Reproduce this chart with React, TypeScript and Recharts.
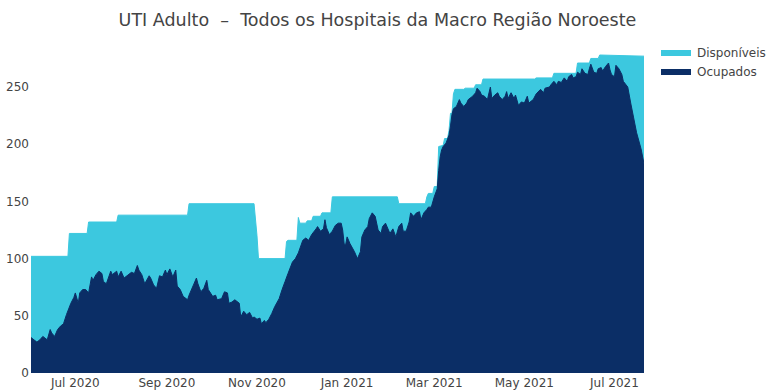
import React from "react";
import { AreaChart, Area, XAxis, YAxis } from "recharts";

// dia 0 = 1 jun 2020
const INICIO = Date.UTC(2020, 5, 1);
const DIA = 86400000;

// [dia, leitos totais]  (topo da área Disponíveis)
const leitosTotais: [number, number][] = [
  [0, 102], [25, 102], [26, 122], [38, 122], [39, 132], [58, 132], [59, 138],
  [106, 138], [107, 148], [151, 148], [153, 120], [154, 100], [172, 100],
  [173, 115], [174, 116], [180, 116], [181, 136], [182, 131], [186, 131],
  [187, 133], [190, 133], [191, 137], [196, 137], [197, 140], [203, 140],
  [204, 154], [248, 154], [249, 148], [267, 148], [268, 154], [269, 157],
  [272, 157], [273, 163], [275, 163], [276, 198], [279, 199], [280, 205],
  [282, 205], [283, 212], [284, 227], [285, 227], [286, 244], [287, 248],
  [293, 248], [294, 249], [300, 249], [301, 252], [305, 252], [306, 257],
  [341, 257], [342, 258], [353, 258], [354, 262], [369, 262], [370, 271],
  [378, 271], [379, 275], [384, 275], [385, 278], [415, 277],
];

// [dia, leitos ocupados]
const ocupados: [number, number][] = [
  [0, 31], [2, 29], [4, 27], [6, 29], [8, 32], [11, 29], [13, 38], [14, 35],
  [16, 32], [18, 38], [20, 41], [22, 43], [24, 51], [27, 61], [29, 66], [30, 70],
  [32, 61], [33, 70], [35, 73], [37, 73], [39, 70], [41, 84], [42, 81], [44, 86],
  [46, 89], [48, 87], [49, 80], [51, 78], [54, 89], [55, 86], [58, 89], [59, 84],
  [61, 89], [63, 83], [65, 85], [68, 88], [70, 87], [72, 94], [73, 90], [75, 86],
  [77, 78], [80, 85], [81, 83], [83, 77], [85, 74], [87, 85], [89, 84], [91, 90],
  [92, 86], [94, 91], [96, 84], [98, 90], [99, 76], [101, 73], [103, 67], [106, 64],
  [107, 68], [110, 77], [112, 83], [113, 78], [115, 71], [117, 74], [119, 81],
  [120, 73], [123, 67], [125, 68], [126, 64], [129, 65], [131, 71], [133, 70],
  [134, 61], [136, 62], [138, 64], [141, 61], [142, 49], [144, 54], [146, 51],
  [148, 53], [150, 48], [151, 49], [153, 47], [155, 48], [156, 43], [158, 46],
  [159, 44], [161, 47], [163, 52], [165, 58], [168, 65], [170, 73], [172, 80],
  [174, 87], [177, 97], [179, 100], [181, 105], [184, 116], [186, 118], [188, 116],
  [190, 121], [193, 126], [194, 128], [196, 124], [198, 126], [199, 134], [200, 127],
  [202, 121], [204, 124], [206, 129], [208, 131], [210, 131], [211, 125], [212, 113],
  [213, 112], [214, 119], [216, 113], [219, 106], [221, 100], [223, 106], [224, 119],
  [226, 125], [228, 128], [229, 135], [231, 140], [233, 137], [235, 125], [237, 122],
  [238, 128], [240, 131], [242, 125], [243, 122], [245, 126], [247, 119], [249, 128],
  [251, 131], [252, 124], [254, 124], [256, 132], [257, 140], [259, 137], [261, 140],
  [263, 141], [264, 134], [266, 140], [268, 143], [269, 145], [271, 145], [273, 154],
  [275, 161], [276, 177], [277, 189], [278, 195], [279, 198], [281, 201], [283, 208],
  [284, 216], [285, 226], [286, 231], [288, 233], [290, 239], [291, 236], [293, 233],
  [295, 236], [296, 239], [299, 242], [301, 245], [302, 249], [304, 246], [305, 243],
  [307, 242], [309, 239], [311, 250], [312, 240], [314, 243], [316, 245], [317, 242],
  [319, 239], [321, 242], [322, 246], [323, 240], [325, 245], [327, 240], [328, 243],
  [330, 234], [332, 237], [334, 236], [336, 242], [337, 236], [340, 239], [342, 244],
  [345, 248], [347, 245], [348, 249], [351, 250], [352, 252], [354, 255], [356, 252],
  [357, 255], [359, 254], [361, 258], [363, 255], [364, 259], [366, 261], [367, 258],
  [369, 259], [370, 263], [372, 261], [373, 266], [375, 262], [377, 261], [378, 266],
  [379, 270], [381, 263], [383, 262], [384, 266], [386, 267], [387, 264], [389, 268],
  [391, 271], [392, 265], [393, 261], [395, 259], [396, 269], [398, 266], [400, 261],
  [401, 255], [404, 250], [406, 236], [408, 223], [410, 210], [413, 196], [415, 183],
];

const datasTicks = ["2020-07-01", "2020-09-01", "2020-11-01", "2021-01-01", "2021-03-01", "2021-05-01", "2021-07-01"];
const rotulosTicks = ["Jul 2020", "Sep 2020", "Nov 2020", "Jan 2021", "Mar 2021", "May 2021", "Jul 2021"];
const ticksY = [0, 50, 100, 150, 200, 250];

const CIANO = "#3cc8df";
const MARINHO = "#0b2e66";
const FONTE = "'DejaVu Sans', Verdana, sans-serif";

const ticksX = datasTicks.map((d) => (Date.parse(d) - INICIO) / DIA);
const rotuloX = (v: number) => rotulosTicks[ticksX.indexOf(v)] ?? "";

const serieTotal = leitosTotais.map(([dia, valor]) => ({ dia, valor }));
const serieOcup = ocupados.map(([dia, valor]) => ({ dia, valor }));

const legenda = [
  { nome: "Disponíveis", cor: CIANO },
  { nome: "Ocupados", cor: MARINHO },
];

export default function App() {
  const tick = { fontFamily: FONTE, fontSize: 12, fill: "#444" };
  return (
    <div style={{ position: "absolute", left: 0, top: 0, width: 775, height: 390, background: "#fff" }}>
      <div
        style={{
          position: "absolute", left: -10, top: 9, width: 775, textAlign: "center",
          fontFamily: FONTE, fontSize: 17.5, color: "#444", whiteSpace: "pre", lineHeight: "22px",
        }}
      >
        {"UTI Adulto  –  Todos os Hospitais da Macro Região Noroeste"}
      </div>
      <div style={{ position: "absolute", left: 661, top: 43, fontFamily: FONTE, fontSize: 12, color: "#444" }}>
        {legenda.map((item) => (
          <div key={item.nome} style={{ display: "flex", alignItems: "center", height: 19 }}>
            <span style={{ display: "inline-block", width: 30, height: 6, background: item.cor, marginRight: 6 }} />
            <span>{item.nome}</span>
          </div>
        ))}
      </div>
      <AreaChart width={775} height={390} margin={{ top: 39, right: 131, bottom: 0, left: 0 }}>
        <XAxis
          dataKey="dia" type="number" domain={[0, 415]} ticks={ticksX} tickFormatter={rotuloX}
          axisLine={false} tickLine={false} tickSize={0} tickMargin={5} height={17} tick={tick}
          allowDataOverflow
        />
        <YAxis
          type="number" domain={[0, 292]} ticks={ticksY} axisLine={false} tickLine={false}
          tickSize={0} tickMargin={2} width={31} tick={tick} allowDataOverflow
        />
        <Area
          data={serieTotal} dataKey="valor" name="Disponíveis" type="linear"
          stroke={CIANO} fill={CIANO} fillOpacity={1} strokeWidth={1} isAnimationActive={false} dot={false}
        />
        <Area
          data={serieOcup} dataKey="valor" name="Ocupados" type="linear"
          stroke={MARINHO} fill={MARINHO} fillOpacity={1} strokeWidth={1} isAnimationActive={false} dot={false}
        />
      </AreaChart>
    </div>
  );
}
